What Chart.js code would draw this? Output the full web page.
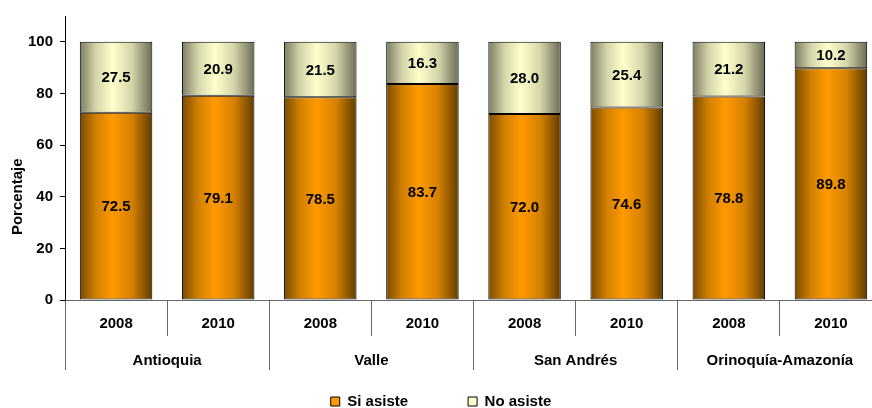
<!DOCTYPE html>
<html>
<head>
<meta charset="utf-8">
<script src="https://cdn.jsdelivr.net/npm/chart.js@4/dist/chart.umd.min.js"></script>
<style>
  html, body { margin: 0; padding: 0; background: #fff; overflow: hidden; }
  .wrap { position: relative; width: 882px; height: 408px; }
</style>
</head>
<body>
<div class="wrap"><canvas id="chart"></canvas></div>
<script>
const years = ['2008', '2010', '2008', '2010', '2008', '2010', '2008', '2010']
const regions = ['Antioquia', 'Valle', 'San Andrés', 'Orinoquía-Amazonía']
const siAsiste = [72.5, 79.1, 78.5, 83.7, 72.0, 74.6, 78.8, 89.8]
const noAsiste = [27.5, 20.9, 21.5, 16.3, 28.0, 25.4, 21.2, 10.2]
const yTicks = [0, 20, 40, 60, 80, 100]

const FONT = 'Liberation Sans, Arial, sans-serif'
const FSIZE = 15
const BAR_PCT = 0.71

const orangeStops = [[0, '#7a4a00'], [0.22, '#d08000'], [0.45, '#ff9900'], [0.72, '#d48100'], [1, '#613b00']]
const creamStops = [[0, '#7c7c63'], [0.22, '#d4d4aa'], [0.45, '#ffffcc'], [0.72, '#d4d4a9'], [1, '#6a6a55']]

function barFill(stops, solid) {
    return function(ctx) {
        let chart = ctx.chart
        if (ctx.type !== 'data' || !chart.chartArea || !chart.scales.x) return solid
        let xs = chart.scales.x
        let cx = xs.getPixelForValue(ctx.dataIndex)
        let half = xs.width / years.length * BAR_PCT / 2
        let g = chart.ctx.createLinearGradient(cx - half, 0, cx + half, 0)
        stops.forEach(s => g.addColorStop(s[0], s[1]))
        return g
    }
}

// value labels in the middle of each segment
const valueLabels = {
    id: 'valueLabels',
    afterDatasetsDraw(chart) {
        let ctx = chart.ctx
        ctx.save()
        ctx.font = 'bold ' + FSIZE + 'px ' + FONT
        ctx.fillStyle = '#000'
        ctx.textAlign = 'center'
        ctx.textBaseline = 'middle'
        chart.data.datasets.forEach((ds, d) => {
            chart.getDatasetMeta(d).data.forEach((bar, i) => {
                let p = bar.getProps(['x', 'y', 'base'], true)
                ctx.fillText(ds.data[i].toFixed(1), p.x, (p.y + p.base) / 2 + 1)
            })
        })
        ctx.restore()
    }
}

// rotated y axis title
const yTitle = {
    id: 'yTitle',
    afterDraw(chart) {
        let ctx = chart.ctx
        let ys = chart.scales.y
        ctx.save()
        ctx.translate(18, ys.getPixelForValue(40))
        ctx.rotate(-Math.PI / 2)
        ctx.font = 'bold 15px ' + FONT
        ctx.fillStyle = '#000'
        ctx.textAlign = 'center'
        ctx.textBaseline = 'middle'
        ctx.fillText('Porcentaje', 0, 0)
        ctx.restore()
    }
}

const legendFills = ['#ff9900', '#ffffcc']

new Chart(document.getElementById('chart'), {
    type: 'bar',
    data: {
        labels: years,
        datasets: [
            {
                label: 'Si asiste',
                data: siAsiste,
                backgroundColor: barFill(orangeStops, '#ff9900'),
                borderColor: '#000',
                borderWidth: 1,
                borderSkipped: false,
                barPercentage: BAR_PCT,
                categoryPercentage: 1
            },
            {
                label: 'No asiste',
                data: noAsiste,
                backgroundColor: barFill(creamStops, '#ffffcc'),
                borderColor: '#000',
                borderWidth: 1,
                borderSkipped: false,
                barPercentage: BAR_PCT,
                categoryPercentage: 1
            }
        ]
    },
    options: {
        responsive: true,
        maintainAspectRatio: false,
        animation: false,
        layout: { padding: { top: 12, left: 0, right: 0, bottom: 0 } },
        plugins: {
            tooltip: { enabled: false },
            legend: {
                position: 'bottom',
                maxHeight: 24,
                labels: {
                    boxWidth: 9,
                    boxHeight: 9,
                    padding: 10,
                    color: '#000',
                    font: { family: FONT, size: FSIZE, weight: 'bold' },
                    generateLabels(chart) {
                        let items = Chart.defaults.plugins.legend.labels.generateLabels(chart)
                        items.forEach((it, i) => {
                            it.lineWidth = 1
                            it.strokeStyle = '#000'
                            it.fillStyle = legendFills[i]
                        })
                        items[0].text += ' '.repeat(12)
                        return items
                    }
                }
            }
        },
        scales: {
            x: {
                stacked: true,
                offset: true,
                afterFit(scale) { scale.height = 36 },
                grid: { drawOnChartArea: false, offset: true, tickLength: 36, color: '#666' },
                border: { display: true, color: '#666' },
                ticks: {
                    autoSkip: false,
                    maxRotation: 0,
                    padding: -21,
                    color: '#000',
                    font: { family: FONT, size: FSIZE, weight: 'bold' }
                }
            },
            x2: {
                type: 'category',
                position: 'bottom',
                labels: regions,
                offset: true,
                afterFit(scale) { scale.height = 48 },
                grid: { drawOnChartArea: false, offset: true, tickLength: 34, color: '#666' },
                border: { display: false },
                ticks: {
                    autoSkip: false,
                    maxRotation: 0,
                    padding: -18,
                    color: '#000',
                    font: { family: FONT, size: FSIZE, weight: 'bold' }
                }
            },
            y: {
                stacked: true,
                min: 0,
                max: 110,
                afterFit(scale) { scale.width = 65 },
                afterBuildTicks(scale) { scale.ticks = yTicks.map(v => ({ value: v })) },
                grid: { drawOnChartArea: false, tickLength: 5, color: '#000' },
                border: { display: true, color: '#000' },
                ticks: {
                    padding: 7,
                    color: '#000',
                    font: { family: FONT, size: FSIZE, weight: 'bold' }
                }
            }
        }
    },
    plugins: [valueLabels, yTitle]
})
</script>
</body>
</html>
